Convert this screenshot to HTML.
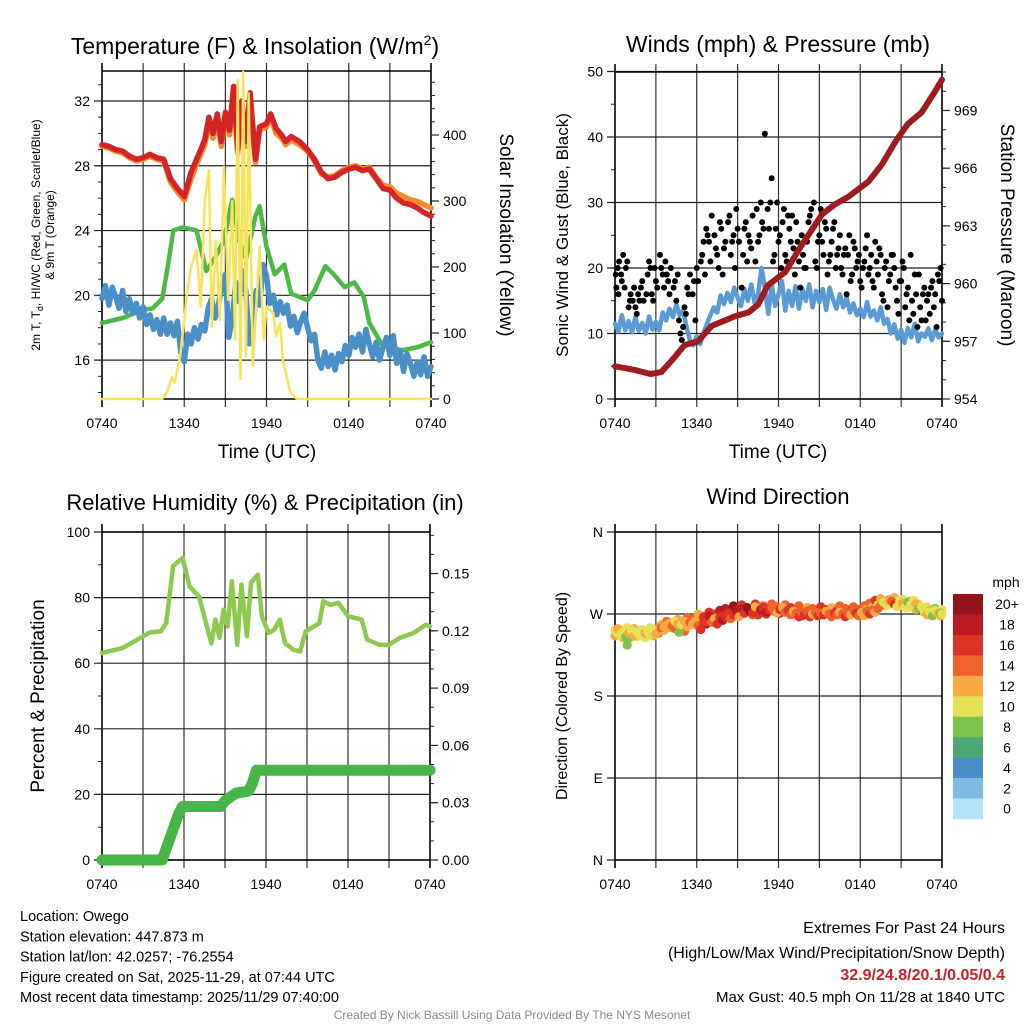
<!DOCTYPE html>
<html><head><meta charset="utf-8">
<style>
html,body{margin:0;padding:0;background:#fff;}
svg{display:block;font-family:"Liberation Sans",sans-serif;}
</style></head>
<body>
<svg id="chart" width="1024" height="1024" viewBox="0 0 1024 1024" xmlns="http://www.w3.org/2000/svg"></svg>
<script>
// ---------- DATA ----------
const xTickLabels = ["0740","1340","1940","0140","0740"];
const xTickHours = [0,6,12,18,24];
const tempTicks = [16,20,24,28,32];
const solarTicks = [0,100,200,300,400];
const windTicks = [0,10,20,30,40,50];
const presTicks = [954,957,960,963,966,969];
const rhTicks = [0,20,40,60,80,100];
const precipTicks = [0,0.03,0.06,0.09,0.12,0.15];
const precipTickLabels = ["0.00","0.03","0.06","0.09","0.12","0.15"];
const dirTicks = [0,90,180,270,360];
const dirTickLabels = ["N","E","S","W","N"];

const redT = [0,0.5,1,1.5,2,2.5,3,3.5,4,4.5,5,5.5,6,6.5,7,7.5,7.8,8.1,8.4,8.7,9,9.3,9.6,9.9,10.2,10.5,10.8,11.2,11.5,12,12.3,12.7,13.1,13.4,13.8,14.4,15,15.5,16,16.5,17,17.5,18,18.5,19,19.5,20,20.5,21,21.5,22,22.5,23,23.5,24];
const redV = [29.3,29.2,29.0,28.9,28.6,28.4,28.5,28.7,28.5,28.4,27.2,26.6,26.1,27.6,28.6,29.6,31.0,30.0,31.2,29.5,31.3,30.2,32.9,29.0,32.0,29.5,32.5,28.4,30.4,30.6,31.2,30.3,29.9,29.5,29.8,29.5,29.0,28.4,27.6,27.2,27.3,27.6,27.8,27.9,27.7,27.8,27.2,26.6,26.5,26.0,25.7,25.6,25.4,25.1,24.9];
const orangeV = [29.2,29.1,28.9,28.8,28.5,28.3,28.4,28.6,28.4,28.3,27.0,26.4,25.9,27.2,28.3,29.3,30.6,29.7,30.8,29.2,30.9,29.9,32.2,28.8,31.6,29.2,31.8,28.2,30.2,30.4,31.0,30.0,29.7,29.3,29.6,29.3,28.9,28.3,27.5,27.3,27.4,27.7,27.9,28.0,27.8,27.9,27.3,26.8,26.7,26.3,26.1,25.9,25.8,25.6,25.4];
const greenT = [0,1.5,3,3.7,4.4,4.8,5.2,5.9,6.9,7.6,8.3,8.9,9.5,10,10.5,11.2,11.5,12,12.6,13.3,13.8,15,15.5,16.3,16.9,17.7,18.4,19.1,19.5,20.4,21.8,23,24];
const greenV = [18.3,18.6,19.1,19.2,19.8,21.8,24.0,24.2,24.0,21.5,22.4,23.4,25.9,23.4,22.2,24.9,25.5,23.0,21.3,21.9,20.1,19.7,20.3,21.8,21.3,20.5,20.8,19.9,18.3,17.0,16.6,16.8,17.1];
const blueV = [19.8,20.6,19.4,20.5,19.9,19.2,20.3,19.0,19.8,18.9,19.5,18.6,19.3,18.2,18.8,17.9,18.5,17.6,18.6,17.6,18.3,17.5,18.4,16.5,15.9,17.6,17.0,18.0,17.3,18.2,17.8,19.2,19.8,18.6,19.4,20.6,21.3,17.4,18.5,20.8,19.6,21.5,20.2,17.0,17.8,20.3,19.4,21.9,21.2,19.5,20.0,18.8,19.6,18.9,19.4,18.1,18.7,17.7,18.4,18.9,18.0,17.2,17.6,16.0,15.5,16.5,15.6,16.3,15.4,16.4,15.9,16.9,16.3,17.4,16.8,17.6,16.5,17.9,17.0,16.2,17.1,16.0,16.8,17.4,16.3,17.5,15.8,16.6,15.3,16.4,15.8,15.0,15.9,15.1,16.2,15.0,15.6];
const solarT = [0,4.4,4.8,5.1,5.3,5.7,6.0,6.2,6.5,6.9,7.2,7.5,7.8,8.0,8.3,8.6,8.9,9.2,9.5,9.7,9.9,10.1,10.3,10.5,10.7,11.0,11.5,11.8,12.0,12.5,12.7,13.0,13.2,13.7,14.2,24];
const solarV = [0,0,13,33,25,64,120,160,200,226,140,300,347,110,240,120,352,150,300,90,483,30,496,64,463,50,231,90,140,130,95,115,59,13,0,0];
const windV = [11.5,10.3,12.8,10.5,11.9,10.2,12.5,10.4,11.6,10.0,12.6,10.6,11.8,10.5,13.2,12.0,13.8,12.5,14.4,12.8,13.5,11.0,9.0,8.2,9.6,8.4,10.2,11.5,12.8,14.0,13.2,15.8,14.5,16.2,14.8,17.0,15.5,14.2,16.8,15.0,17.5,14.6,16.0,20.0,17.0,13.0,17.5,14.2,16.0,18.0,13.5,16.5,14.2,17.2,13.8,16.8,15.0,17.5,14.0,16.5,14.8,16.8,13.6,17.0,15.2,13.8,16.0,14.0,15.5,13.2,14.6,12.8,13.8,12.5,14.8,12.6,13.5,12.0,14.0,11.5,12.2,10.0,11.4,9.2,10.6,8.6,10.8,9.4,11.5,8.8,10.0,9.5,10.8,9.0,10.6,9.4,10.0];
const gustT = [0.1,0.2,0.3,0.45,0.6,0.8,1,1.15,1.3,1.5,1.7,1.9,2.1,2.3,2.5,2.7,2.9,3.1,3.3,3.5,3.7,3.9,4.1,4.3,4.5,4.7,4.8,4.9,5.1,5.3,5.5,5.7,5.9,6.1,6.3,6.5,6.7,6.9,7.1,7.3,7.5,7.7,7.9,8.1,8.3,8.5,8.7,8.9,9.1,9.3,9.5,9.7,9.9,10.1,10.3,10.5,10.7,10.9,11.0,11.2,11.4,11.5,11.6,11.8,12.0,12.2,12.4,12.6,12.8,13.0,13.2,13.4,13.6,13.8,14.0,14.2,14.4,14.6,14.8,15.0,15.2,15.4,15.6,15.8,16.0,16.2,16.4,16.6,16.8,17.0,17.2,17.4,17.6,17.8,18.0,18.2,18.4,18.6,18.8,19.0,19.2,19.4,19.6,19.8,20.0,20.2,20.4,20.6,20.8,21.0,21.2,21.4,21.6,21.8,22.0,22.2,22.4,22.6,22.8,23.0,23.2,23.4,23.6,23.8,23.9,24];
const gustV = [17,20,21,19,22,20,14,16,15,14,16,17,15,16,21,16,20,17,22,19,21,18,20,17,15,12,10,9,14,17,19,16,12,18,21,24,26,24,28,25,22,27,19,24,27,22,25,29,24,17,26,21,24,28,21,24,30,26,40.5,29,30,33.7,21,26,24,20,29,21,26,28,19,24,17,22,20,27,29,30,20,25,24,27,19,22,26,20,23,20,22,16,25,19,23,21,18,20,23,19,22,17,21,23,16,20,14,19,22,17,13,18,20,16,12,15,19,11,14,16,12,16,17,14,11,18,20,15];
const gustT2 = [0.05,0.25,0.5,0.7,0.9,1.1,1.4,1.6,1.8,2.0,2.4,2.6,2.8,3.0,3.4,3.6,3.8,4.0,4.4,4.6,5.0,5.2,5.4,5.8,6.0,6.4,6.6,6.8,7.0,7.4,7.6,7.8,8.0,8.4,8.6,8.8,9.0,9.4,9.6,9.8,10.0,10.4,10.6,10.8,11.3,11.7,11.9,12.1,12.3,12.5,12.7,12.9,13.1,13.3,13.5,13.7,13.9,14.1,14.3,14.5,14.7,14.9,15.1,15.3,15.5,15.7,15.9,16.1,16.3,16.5,16.7,16.9,17.1,17.3,17.5,17.7,17.9,18.1,18.3,18.5,18.7,18.9,19.1,19.3,19.5,19.7,19.9,20.1,20.3,20.5,20.7,20.9,21.1,21.3,21.5,21.7,21.9,22.1,22.3,22.5,22.7,22.9,23.1,23.3,23.5,23.7];
const gustV2 = [19,16,18,17,21,15,17,13,15,18,19,20,15,18,20,17,19,16,18,19,11,13,16,18,20,22,19,25,21,23,20,26,23,28,24,20,26,22,27,25,23,29,25,27,26,22,30,25,27,22,28,24,23,27,21,25,20,24,28,26,21,24,29,22,26,21,24,27,22,25,19,23,22,18,24,20,22,17,21,25,20,18,24,19,22,15,21,18,22,20,15,18,21,14,17,22,13,16,19,12,17,15,13,18,16,19];
const presT = [0,1.5,2.6,3.4,4.4,5.1,6.1,7.1,8.8,9.8,10.5,11.2,12.5,13.7,15.2,16.1,17.1,18.6,19.6,20.6,21.5,22.5,23.5,24];
const presV = [955.7,955.5,955.3,955.4,956.2,956.8,957.0,957.8,958.3,958.5,958.9,959.9,960.6,962.0,963.6,964.1,964.5,965.3,966.2,967.4,968.3,968.9,970.0,970.6];
const rhT = [0,1.5,2.8,3.5,4.3,4.7,5.2,5.9,6.4,7.1,8.0,8.3,8.6,8.9,9.2,9.5,9.9,10.2,10.6,10.9,11.4,11.7,12.2,12.6,13.0,13.4,14.0,14.5,14.9,15.9,16.2,16.7,17.3,18.0,19.0,19.4,20.3,21.0,21.8,22.8,23.7,24];
const rhV = [63.1,64.6,67.7,69.4,69.7,72.2,89.6,92.1,83.4,80.4,66.1,73.3,67.7,76.3,71.2,85.0,65.6,84.0,68.2,84.5,87.0,74.3,69.2,70.2,73.3,66.1,64.1,63.6,69.7,72.2,78.9,77.8,78.4,74.3,73.3,67.2,65.6,65.6,67.7,69.2,71.7,71.2];
const precT = [0,4.4,4.8,5.2,5.6,5.9,8.7,9.0,9.4,9.8,10.7,11.0,11.3,24];
const precV = [0,0,0.008,0.016,0.024,0.028,0.028,0.031,0.033,0.035,0.036,0.040,0.047,0.047];
const dirT = [0.0,0.2,0.4,0.6,0.8,0.9,1.0,1.2,1.4,1.6,1.8,2.0,2.2,2.4,2.6,2.8,3.0,3.2,3.4,3.6,3.8,4.0,4.2,4.4,4.6,4.7,4.9,5.1,5.3,5.5,5.7,5.9,6.1,6.3,6.5,6.7,6.9,7.1,7.3,7.5,7.7,7.9,8.1,8.3,8.5,8.7,8.9,9.1,9.3,9.5,9.7,9.9,10.1,10.3,10.5,10.7,10.9,11.1,11.3,11.5,11.7,11.9,12.1,12.3,12.5,12.7,12.9,13.1,13.3,13.5,13.7,13.9,14.1,14.3,14.5,14.7,14.9,15.1,15.3,15.5,15.7,15.9,16.1,16.3,16.5,16.7,16.9,17.1,17.3,17.5,17.7,17.9,18.1,18.3,18.5,18.7,18.9,19.1,19.3,19.5,19.7,19.9,20.1,20.3,20.5,20.7,20.9,21.1,21.3,21.5,21.7,21.9,22.1,22.3,22.5,22.7,22.9,23.1,23.3,23.5,23.7,23.9,24.0];
const dirV = [252,254,247,250,245,236,249,252,246,250,247,253,249,251,247,252,248,251,255,256,258,260,257,262,259,250,258,262,256,261,259,262,257,253,261,265,268,261,265,259,266,263,267,271,265,269,273,267,276,271,277,273,271,278,269,275,277,272,275,278,273,271,275,277,272,274,269,273,271,267,272,269,273,267,270,272,268,271,269,273,270,267,271,269,272,270,267,271,269,274,271,268,272,268,273,270,274,272,276,279,283,281,285,284,281,278,284,282,277,283,280,285,281,276,278,273,269,272,268,274,270,271,270,273];
const dirV2 = [246,249,253,244,251,255,243,248,254,245,249,252,244,250,255,246,253,249,258,252,262,255,261,254,264,257,262,251,266,258,264,260,270,262,267,259,272,264,270,266,274,268,276,270,273,279,268,275,280,271,277,274,269,281,275,272,279,270,276,281,273,278,271,276,280,272,277,270,275,279,268,274,277,271,276,270,274,278,269,275,272,277,270,274,279,271,276,269,273,278,270,275,273,279,276,282,278,285,280,287,283,279,286,281,288,284,280,286,282,277,284,279,275,281,276,272,278,274,270,276,273,268,275,271];
const dirS = [10,12,10,10,8,8,12,10,12,10,10,10,12,10,10,10,12,12,14,12,12,12,14,10,12,8,10,12,12,14,12,12,14,16,16,16,18,14,12,16,16,18,16,16,14,16,18,12,18,16,20,20,16,12,16,18,16,18,16,14,14,12,16,12,14,16,14,12,14,16,14,16,14,16,12,14,16,14,16,12,14,14,16,14,12,14,16,14,12,14,16,14,12,12,14,16,14,12,14,14,10,10,12,14,16,10,10,12,10,8,10,10,12,8,10,10,12,10,8,10,12,8,10,10];
const dirS2 = [12,10,10,12,10,10,8,10,12,10,12,10,10,12,10,12,12,14,12,12,14,12,12,14,12,10,12,14,14,12,14,16,12,14,16,18,16,18,16,14,18,16,18,16,18,20,16,18,16,14,18,16,14,16,18,16,14,16,18,14,16,14,18,16,14,12,16,14,16,14,16,14,12,16,14,16,14,16,14,16,14,12,14,16,14,16,14,12,16,14,12,14,16,14,12,14,12,16,10,12,14,10,12,10,12,10,8,10,12,10,8,10,12,10,10,8,10,12,10,8,10,12,10,10];
const speedBins = ["0","2","4","6","8","10","12","14","16","18","20+"];
const speedColors = ["#b5e3f8","#7cb9e3","#4a8dc7","#4aa772","#7dc24a","#e6e055","#f7aa44","#f0622b","#dc3326","#bb1c23","#921619"];

// ---------- DRAWING ----------
const svg = document.getElementById('chart');
const NS = 'http://www.w3.org/2000/svg';
function el(tag, attrs, parent){
  const e = document.createElementNS(NS, tag);
  for (const k in attrs) e.setAttribute(k, attrs[k]);
  (parent||svg).appendChild(e);
  return e;
}
function txt(s, x, y, size, anchor, parent, extra){
  const t = el('text', Object.assign({x:x, y:y, 'font-size':size, 'text-anchor':anchor||'middle', fill:'#000'}, extra||{}), parent);
  t.textContent = s;
  return t;
}
function lin(d0,d1,r0,r1){ return v => r0 + (v-d0)/(d1-d0)*(r1-r0); }

function panel(name, x0, x1, y0, y1, leftTicks, leftFmt, ly, rightTicks, rightFmt, ry, leftMinorStep, rightMinorStep, lmin, lmax, rmin, rmax){
  const g = el('g', {});
  
  
  const xs = lin(0,24,x0,x1);
  for (let h=0; h<=24; h+=3){
    const l = el('line',{x1:xs(h),x2:xs(h),y1:y0-8,y2:y1+8,stroke:(h===0||h===24)?'#000':'#333','stroke-width':(h===0||h===24)?1.6:1.2},g);
    
    
  }
  leftTicks.forEach((v,i)=>{
    const y = ly(v);
    const l = el('line',{x1:x0-8,x2:x1,y1:y,y2:y,stroke:'#222','stroke-width':1.2},g);
    
    
    const t = txt(leftFmt(v,i), x0-12, y+5, 14, 'end', g);
    
    
  });
  if (leftMinorStep){
    for (let v=Math.ceil(lmin/leftMinorStep)*leftMinorStep; v<=lmax; v+=leftMinorStep){
      el('line',{x1:x0-4,x2:x0,y1:ly(v),y2:ly(v),stroke:'#222','stroke-width':1},g);
    }
  }
  el('line',{x1:x0,x2:x1,y1:y0,y2:y0,stroke:'#000','stroke-width':1.6},g);
  el('line',{x1:x0,x2:x1,y1:y1,y2:y1,stroke:'#000','stroke-width':1.6},g);
  if (rightTicks){
    rightTicks.forEach((v,i)=>{
      const y = ry(v);
      el('line',{x1:x1,x2:x1+8,y1:y,y2:y,stroke:'#222','stroke-width':1.2},g);
      const t = txt(rightFmt(v,i), x1+12, y+5, 14, 'start', g);
      
      
    });
    for (let v=rmin; v<=rmax+1e-9; v+=rightMinorStep){
      el('line',{x1:x1,x2:x1+4,y1:ry(v),y2:ry(v),stroke:'#222','stroke-width':1},g);
    }
  }
  xTickHours.forEach((h,i)=>{
    const t = txt(xTickLabels[i], xs(h), y1+29, 14, 'middle', g);
    
    
  });
  return {g, xs};
}
function path(g, xs, ys, T, V, color, w, name){
  let d = '';
  const n = Math.min(T.length, V.length);
  for (let i=0;i<n;i++){ d += (i?'L':'M') + xs(T[i]).toFixed(1) + ',' + ys(V[i]).toFixed(1); }
  const p = el('path',{d:d, fill:'none', stroke:color, 'stroke-width':w, 'stroke-linejoin':'round','stroke-linecap':'round'}, g);
  
  
  return p;
}
const qT = blueV.map((v,i)=>i*0.25);

// ---- Panel 1 ----
{
  const ly = lin(13.6,33.85,399,71), ry = lin(0,497,399,71);
  const P = panel('temperature-panel',102,431,71,399,tempTicks,v=>String(v),ly,solarTicks,v=>String(v),ry,1,20,13.6,33.85,0,480);
  path(P.g,P.xs,ly,redT,orangeV,'#f58a2c',5.5,'temp-9m-orange-line');
  path(P.g,P.xs,ly,greenT,greenV,'#4cb845',4.5,'dewpoint-green-line');
  path(P.g,P.xs,ly,qT,blueV,'#4a8fc8',5.5,'windchill-blue-line');
  path(P.g,P.xs,ly,redT,redV,'#d42428',5.5,'temp-2m-red-line');
  path(P.g,P.xs,ry,solarT,solarV,'#f7e35a',2.5,'solar-insolation-yellow-line');
  const t = txt('Temperature (F) & Insolation (W/m', 255, 54, 23, 'middle');
  
  
  const sup = el('tspan',{dy:-9,'font-size':14}, t); sup.textContent='2';
  const cl = el('tspan',{dy:9}, t); cl.textContent=')';
  const yl = el('text',{transform:'translate(40,235) rotate(-90)','font-size':12,'text-anchor':'middle'});
  
  
  yl.innerHTML = '2m T, T<tspan font-size="9" dy="3">d</tspan><tspan dy="-3">, HI/WC (Red, Green, Scarlet/Blue)</tspan>';
  const yl2 = txt('& 9m T (Orange)', 0, 0, 12, 'middle', null, {transform:'translate(54,235) rotate(-90)'});
  
  
  const rl = txt('Solar Insolation (Yellow)', 0, 0, 19, 'middle', null, {transform:'translate(500,235) rotate(90)'});
  
  
  const xl = txt('Time (UTC)', 267, 458, 19, 'middle');
  
  
}
// ---- Panel 2 ----
{
  const ly = lin(0,50,399,71.5), ry = lin(954,971.0,399,72);
  const P = panel('winds-panel',615,942,72,399,windTicks,v=>String(v),ly,presTicks,v=>String(v),ry,5,1,0,50,954,971);
  path(P.g,P.xs,ly,qT,windV,'#5a9bd5',4.5,'sonic-wind-blue-line');
  for (let i=0;i<Math.min(gustT.length,gustV.length);i++){
    const c = el('circle',{cx:P.xs(gustT[i]),cy:ly(gustV[i]),r:3,fill:'#000'},P.g);
    
    
  }
  for (let i=0;i<Math.min(gustT2.length,gustV2.length);i++){
    const c = el('circle',{cx:P.xs(gustT2[i]),cy:ly(gustV2[i]),r:3,fill:'#000'},P.g);
    
    
  }
  path(P.g,P.xs,ry,presT,presV,'#9e1b1e',6,'pressure-maroon-line');
  const t = txt('Winds (mph) & Pressure (mb)', 778, 52, 23, 'middle');
  
  
  const yl = txt('Sonic Wind & Gust (Blue, Black)', 0, 0, 17, 'middle', null, {transform:'translate(568,235) rotate(-90)'});
  
  
  const rl = txt('Station Pressure (Maroon)', 0, 0, 19, 'middle', null, {transform:'translate(1001,235) rotate(90)'});
  
  
  const xl = txt('Time (UTC)', 778, 458, 19, 'middle');
  
  
}
// ---- Panel 3 ----
{
  const ly = lin(0,100,860,532), ry = lin(0,0.03,860,802.7);
  const P = panel('humidity-panel',102,430,532,860,rhTicks,v=>String(v),ly,precipTicks,(v,i)=>precipTickLabels[i],ry,10,0.01,0,100,0,0.17);
  path(P.g,P.xs,ry,precT,precV,'#47b547',11,'precipitation-line');
  path(P.g,P.xs,ly,rhT,rhV,'#8dc94e',4.5,'relative-humidity-line');
  const t = txt('Relative Humidity (%) & Precipitation (in)', 265, 510, 22, 'middle');
  
  
  const yl = txt('Percent & Precipitation', 0, 0, 19, 'middle', null, {transform:'translate(44,696) rotate(-90)'});
  
  
}
// ---- Panel 4 ----
{
  const ly = lin(0,360,860,532);
  const P = panel('wind-direction-panel',615,942,532,860,dirTicks,(v,i)=>dirTickLabels[i],ly,null,null,null,0,0,0,0,0,0);
  const nA = Math.min(dirT.length, dirV.length, dirS.length);
  const nB = Math.min(dirT.length, dirV2.length, dirS2.length);
  for (let i=0;i<nB;i++){
    const bin = Math.min(10, Math.floor(dirS2[i]/2));
    const c = el('circle',{cx:P.xs(dirT[i]),cy:ly(dirV2[i]),r:4.6,fill:speedColors[bin]},P.g);
    
    
  }
  for (let i=0;i<nA;i++){
    const bin = Math.min(10, Math.floor(dirS[i]/2));
    const c = el('circle',{cx:P.xs(dirT[i]),cy:ly(dirV[i]),r:4.6,fill:speedColors[bin]},P.g);
    
    
  }
  const t = txt('Wind Direction', 778, 504, 22, 'middle');
  
  
  const yl = txt('Direction (Colored By Speed)', 0, 0, 16, 'middle', null, {transform:'translate(567,696) rotate(-90)'});
  
  
  const lg = el('g',{});
  
  
  const bh = 20.45;
  for (let k=0;k<11;k++){
    const idx = 10-k;
    const r = el('rect',{x:953,y:594+k*bh,width:30,height:bh+0.3,fill:speedColors[idx]},lg);
    
    
    const tl = txt(speedBins[idx], 1007, 594+k*bh+bh/2+5, 14, 'middle', lg);
    
    
  }
  const mu = txt('mph', 1006, 587, 14, 'middle', lg);
  
  
}
// ---- Footer text ----
const infoLines = ["Location: Owego","Station elevation: 447.873 m","Station lat/lon: 42.0257; -76.2554","Figure created on Sat, 2025-11-29, at 07:44 UTC","Most recent data timestamp: 2025/11/29 07:40:00"];
infoLines.forEach((s,i)=>{
  const t = txt(s, 20, 921+i*20.3, 14.5, 'start');
  
  
});
const e1 = txt('Extremes For Past 24 Hours', 1005, 933, 16, 'end');


const e2 = txt('(High/Low/Max Wind/Precipitation/Snow Depth)', 1005, 958, 16, 'end');


const e3 = txt('32.9/24.8/20.1/0.05/0.4', 1005, 980, 16, 'end', null, {fill:'#c8202a','font-weight':'bold'});


const e4 = txt('Max Gust: 40.5 mph On 11/28 at 1840 UTC', 1005, 1002, 15, 'end');


const cr = txt('Created By Nick Bassill Using Data Provided By The NYS Mesonet', 512, 1019, 12, 'middle', null, {fill:'#8a8a8a'});


</script>
</body></html>
